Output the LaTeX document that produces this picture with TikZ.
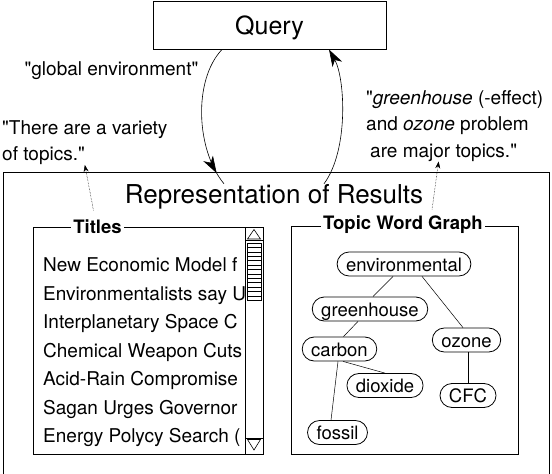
\documentclass[tikz,border=0pt]{standalone}
\usepackage{fontspec}
\setmainfont{TeX Gyre Heros}[Ligatures=TeXOff]
\usepackage{tikz}
\usetikzlibrary{arrows.meta,positioning,calc,decorations.markings}
\newcommand{\qryfont}{\fontsize{25}{30}\selectfont}
\newcommand{\repfont}{\fontsize{26}{30}\selectfont}
\newcommand{\remfont}{\fontsize{19}{26.5}\selectfont}
\newcommand{\listfont}{\fontsize{19}{22}\selectfont}
\newcommand{\tagfont}{\fontsize{18.5}{20}\selectfont\bfseries}
\newcommand{\wordfont}{\fontsize{18.5}{20}\selectfont}
\tikzset{
  panel/.style={draw,line width=.9pt},
  paneltag/.style={font=\tagfont,fill=white,inner xsep=2pt,inner ysep=0pt,text depth=0pt},
  word/.style={draw,line width=.8pt,rounded corners=12pt,minimum height=24pt,inner xsep=9pt,inner ysep=0pt,text height=14pt,text depth=0pt,font=\wordfont},
  link/.style={line width=.5pt},
  remark/.style={font=\remfont,align=left,inner sep=0pt},
  item/.style={font=\listfont,inner sep=0pt,anchor=base west},
  flow/.style={line width=.6pt},
  flowhead/.style={-{Stealth[length=17pt,width=11pt,inset=5pt]}},
  midhead/.style={postaction={decorate},decoration={markings,mark=at position #1 with {\arrow{Stealth[length=17pt,width=11pt,inset=5pt]}}}},
  hint/.style={line width=.5pt,densely dotted,-{Stealth[length=7pt,width=5pt]}}
}
\begin{document}
\begin{tikzpicture}[x=1pt,y=-1pt]
  \useasboundingbox (0,0) rectangle (552,474);
  \clip (0,0) rectangle (552,474);

  % query and result window
  \node[draw,line width=1pt,minimum width=233pt,minimum height=48pt,font=\qryfont,text height=18pt,text depth=0pt] (query) at (269.5,25) {Query};
  \draw[panel] (3,172) rectangle (549,490);
  \node[font=\repfont,inner sep=0pt,anchor=base] (rep) at (274,203) {Representation of Results};

  % remarks
  \node[font=\remfont,inner sep=0pt,anchor=base] (gq) at (111.5,75) {"global environment"};
  \node[remark,anchor=north west] (variety) at (2,120) {"There are a variety\\of topics."};
  \node[remark,anchor=north west] (major) at (366,90) {"\textit{greenhouse} (-effect)\\and \textit{ozone} problem\\\hspace*{4pt}are major topics."};

  \draw[flow,midhead=0.91] ([xshift=-47.5pt]query.south) .. controls (193,80) and (196,150) .. ([xshift=-50pt]rep.north);
  \draw[flow,flowhead] ([xshift=50pt]rep.north) .. controls (349,150) and (345,78) .. ([xshift=59.5pt]query.south);

  % titles panel
  \draw[panel] (33,227) rectangle (263,454);
  \node[paneltag] (ttl) at (97.5,226.5) {Titles};
  \begin{scope}
    \clip (33,227) rectangle (245,454);
    \foreach \t [count=\i from 0] in {New Economic Model f,Environmentalists say U,Interplanetary Space C,Chemical Weapon Cuts,Acid-Rain Compromise,Sagan Urges Governor,{Energy Polycy Search (}}
      \node[item] (title\i) at (43,{271.5+28.5*\i}) {\t};
  \end{scope}
  % scroll bar
  \draw[panel] (245,227) -- (245,454);
  \draw[line width=.6pt] (254,229.5) -- (247.5,239) -- (260.5,239) -- cycle;
  \draw[line width=.6pt] (245,240.5) -- (263,240.5);
  \draw[line width=.6pt] (247,243) rectangle (261,300);
  \foreach \k in {1,...,12}
    \draw[line width=.6pt] (247,{243+4.4*\k}) -- (261,{243+4.4*\k});
  \draw[line width=.6pt] (245,438) -- (263,438);
  \draw[line width=.6pt] (247.5,439.5) -- (260.5,439.5) -- (254,450) -- cycle;

  % topic word graph panel
  \draw[panel] (291,226) rectangle (518,454);
  \node[paneltag] (twg) at (403,222.5) {Topic Word Graph};
  \node[word] (env) at (404,264) {environmental};
  \node[word] (gh) at (370,309) {greenhouse};
  \node[word] (oz) at (466.5,340) {ozone};
  \node[word] (carb) at (339.5,349) {carbon};
  \node[word] (diox) at (385,385.5) {dioxide};
  \node[word] (cfc) at (468,395.5) {CFC};
  \node[word] (fos) at (337.5,432.5) {fossil};
  \draw[link] ([xshift=-11pt]env.south) -- ([xshift=3pt]gh.north);
  \draw[link] ([xshift=18pt]env.south) -- ([xshift=-3.5pt]oz.north);
  \draw[link] ([xshift=-12pt]gh.south) -- ([xshift=4pt]carb.north);
  \draw[link] ([xshift=-1.5pt]carb.south) -- ([xshift=-6.5pt]fos.north);
  \draw[link] ([xshift=3.5pt]carb.south) -- (diox.north);
  \draw[link] ([xshift=1.5pt]oz.south) -- (cfc.north);

  \draw[hint] ([shift={(-4pt,9pt)}]ttl.north) -- (variety.south);
  \draw[hint] ([shift={(29pt,6pt)}]twg.north) -- ([xshift=-16pt]major.south);
\end{tikzpicture}
\end{document}
